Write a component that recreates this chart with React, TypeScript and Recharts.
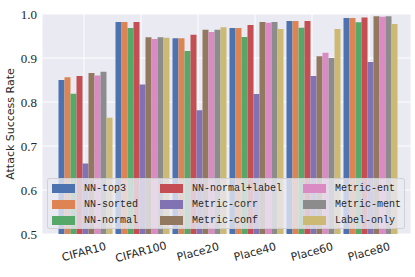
import { Bar, BarChart, CartesianGrid, Legend, XAxis, YAxis } from 'recharts'

// Datasets on the x axis
const categories = ['CIFAR10', 'CIFAR100', 'Place20', 'Place40', 'Place60', 'Place80']

// Attack success rate per method, one value per dataset
const nnTop3 = [0.85, 0.982, 0.945, 0.968, 0.984, 0.991]
const nnSorted = [0.856, 0.982, 0.945, 0.968, 0.984, 0.991]
const nnNormal = [0.819, 0.968, 0.916, 0.948, 0.969, 0.981]
const nnNormalLabel = [0.859, 0.982, 0.953, 0.975, 0.984, 0.992]
const metricCorr = [0.66, 0.84, 0.781, 0.818, 0.859, 0.891]
const metricConf = [0.866, 0.947, 0.964, 0.982, 0.904, 0.995]
const metricEnt = [0.86, 0.943, 0.959, 0.98, 0.912, 0.994]
const metricMent = [0.869, 0.947, 0.964, 0.982, 0.9, 0.995]
const labelOnly = [0.764, 0.946, 0.97, 0.966, 0.966, 0.977]

const yTicks = [0.5, 0.6, 0.7, 0.8, 0.9, 1.0]

// seaborn "deep" palette
const SERIES = [
  { key: 'NN-top3', values: nnTop3, color: '#4C72B0' },
  { key: 'NN-sorted', values: nnSorted, color: '#DD8452' },
  { key: 'NN-normal', values: nnNormal, color: '#55A868' },
  { key: 'NN-normal+label', values: nnNormalLabel, color: '#C44E52' },
  { key: 'Metric-corr', values: metricCorr, color: '#8172B3' },
  { key: 'Metric-conf', values: metricConf, color: '#937860' },
  { key: 'Metric-ent', values: metricEnt, color: '#DA8BC3' },
  { key: 'Metric-ment', values: metricMent, color: '#8C8C8C' },
  { key: 'Label-only', values: labelOnly, color: '#CCB974' },
]

const data = categories.map((name, i) => {
  const row: Record<string, string | number> = { name }
  SERIES.forEach((s) => {
    row[s.key] = s.values[i]
  })
  return row
})

const TEXT = '#262626'

const XTick = (props: any) => {
  const { x, y, payload } = props
  const cy = y + 18
  return (
    <text
      x={x}
      y={cy}
      transform={`rotate(-15, ${x}, ${cy})`}
      textAnchor='middle'
      dominantBaseline='central'
      fontFamily='DejaVu Sans'
      fontSize={11}
      fill={TEXT}
    >
      {payload.value}
    </text>
  )
}

const YLabel = (props: any) => {
  const { viewBox } = props
  const x = 10
  const y = viewBox.y + viewBox.height / 2
  return (
    <text
      x={x}
      y={y}
      transform={`rotate(-90, ${x}, ${y})`}
      textAnchor='middle'
      dominantBaseline='central'
      fontFamily='DejaVu Sans'
      fontSize={11}
      fill={TEXT}
    >
      Attack Success Rate
    </text>
  )
}

// legend is drawn column-major, 3 rows
const renderLegend = () => (
  <div
    style={{
      boxSizing: 'border-box',
      width: 358,
      height: 51,
      background: 'rgba(234, 234, 242, 0.8)',
      border: '1px solid rgba(204, 204, 204, 0.8)',
      borderRadius: 3,
      display: 'grid',
      gridAutoFlow: 'column',
      gridTemplateRows: '16px 16px 16px',
      gridTemplateColumns: '108px 143px auto',
      paddingLeft: 4,
      paddingTop: 1,
    }}
  >
    {SERIES.map((s) => (
      <div key={s.key} style={{ display: 'flex', alignItems: 'center' }}>
        <span style={{ width: 23, height: 9, background: s.color, marginRight: 9, flex: 'none' }} />
        <span style={{ fontFamily: 'Liberation Mono', fontSize: 10, color: TEXT, whiteSpace: 'nowrap' }}>
          {s.key}
        </span>
      </div>
    ))}
  </div>
)

export default function App() {
  return (
    <div style={{ position: 'absolute', left: 0, top: 0 }}>
      <BarChart
        width={415}
        height={277}
        data={data}
        margin={{ top: 14, right: 4, bottom: 3, left: 0 }}
        barCategoryGap={3}
        barGap={0}
      >
        <CartesianGrid fill='#EAEAF2' stroke='#FFFFFF' strokeWidth={1} />
        <XAxis
          dataKey='name'
          height={40}
          axisLine={false}
          tickLine={false}
          tickSize={0}
          tickMargin={0}
          padding={{ left: 13.5, right: 13.5 }}
          tick={<XTick />}
          interval={0}
        />
        <YAxis
          width={42}
          domain={[0.5, 1.0]}
          ticks={yTicks}
          allowDataOverflow
          axisLine={false}
          tickLine={false}
          tickSize={0}
          tickMargin={5}
          tickFormatter={(v: number) => v.toFixed(1)}
          tick={{ fontFamily: 'Liberation Serif', fontSize: 13, fill: TEXT }}
          label={<YLabel />}
        />
        {SERIES.map((s) => (
          <Bar key={s.key} dataKey={s.key} fill={s.color} isAnimationActive={false} />
        ))}
        <Legend
          layout='horizontal'
          verticalAlign='middle'
          align='center'
          content={renderLegend}
          wrapperStyle={{ left: 47, top: 178, width: 358, height: 51 }}
        />
      </BarChart>
    </div>
  )
}
